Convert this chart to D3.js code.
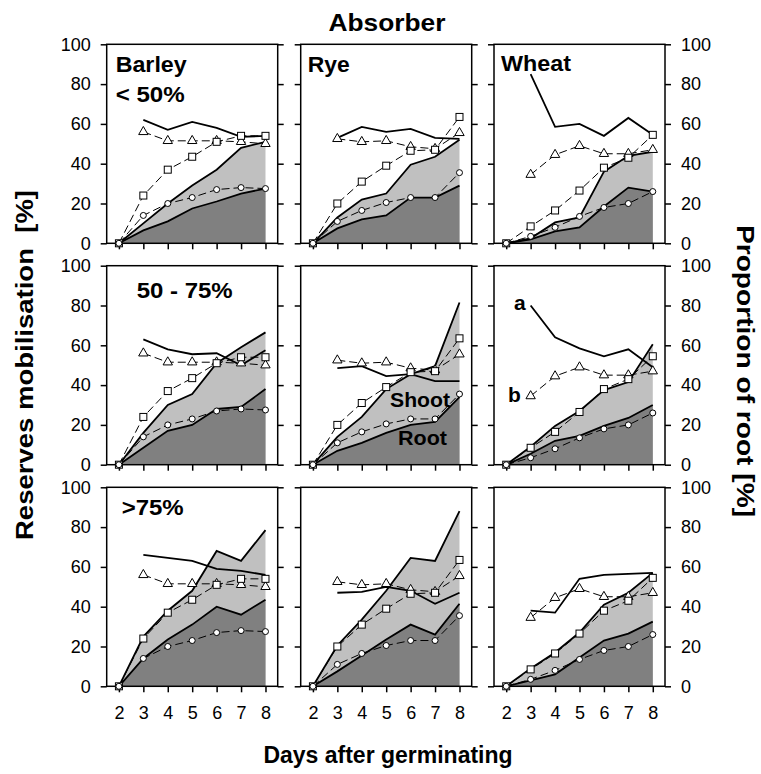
<!DOCTYPE html>
<html>
<head>
<meta charset="utf-8">
<script src="https://cdn.jsdelivr.net/npm/d3@7"></script>
<style>
body { margin: 0; background: #fff; }
text { font-family: "Liberation Sans", Arial, sans-serif; fill: #000; }
</style>
</head>
<body>
<div id="chart"></div>
<script>
var days = [2, 3, 4, 5, 6, 7, 8];
var laterDays = [3, 4, 5, 6, 7, 8];
var crops = ["Barley", "Rye", "Wheat"];
var groups = ["< 50%", "50 - 75%", ">75%"];
var yTicks = [0, 20, 40, 60, 80, 100];

// panels in reading order (row = group, column = crop), days 2..8
var totalMob = [
    [0, 10, 20, 29, 37, 48, 51],
    [0, 13, 22, 25, 39.5, 43.5, 52],
    [0, 2.5, 10.5, 13, 36, 44, 46],
    [0, 16, 30, 35.5, 51, 59, 66.5],
    [0, 14, 24, 38, 45.5, 49.5, 81.5],
    [0, 9, 19.5, 27, 37.5, 41.5, 60.5],
    [0, 25, 38, 48, 68, 63, 78.5],
    [0, 20.5, 33.5, 48, 64.5, 63, 88],
    [0, 9, 17, 27, 41, 47, 57]
];
var rootMob = [
    [0, 6.5, 11, 17.5, 21, 25, 27.5],
    [0, 7.5, 12, 14, 23, 23, 29],
    [0, 2, 6, 8, 18.5, 28, 26],
    [0, 8.5, 17, 20, 28, 29, 38],
    [0, 7, 11, 16, 20, 21.5, 34],
    [0, 5.5, 12, 14.5, 19.5, 23.5, 30],
    [0, 14, 23.5, 31, 40, 36, 43.5],
    [0, 7.5, 15.5, 23.5, 31, 26, 41.5],
    [0, 3, 6, 14.5, 23, 26.5, 32.5]
];
// proportion of root (line "a"), days 3..8
var rootProp = [
    [62, 57, 61, 58, 53.5, 54],
    [53, 58.5, 56, 57.5, 53, 52.5],
    [85, 58.5, 60, 54, 63, 54.5],
    [63, 58, 55.5, 56, 50, 57.5],
    [48.5, 49.5, 44.5, 45.5, 42, 42],
    [80, 64, 58.5, 54.5, 58, 49],
    [66, 64.5, 63, 59, 58, 56],
    [47, 47.5, 50, 48, 41.5, 47],
    [38, 37, 54, 56, 56.5, 57]
];
// reference series per crop (same in every row)
var triangles = [
    [56, 51.5, 51.5, 51.5, 51, 50],
    [52.5, 51, 51.5, 48.5, 47.5, 55.5],
    [34.5, 44.5, 49, 45, 45, 47]
];
var squares = [
    [0, 24, 37, 43.5, 51, 54, 54],
    [0, 20, 31, 39, 46.5, 47, 63.5],
    [0, 8.5, 16.5, 26.5, 38, 43, 54.5]
];
var circles = [
    [0, 14, 20, 23, 27, 28, 27.5],
    [0, 11, 16.5, 20.5, 23, 23, 35.5],
    [0, 3.5, 8, 13.5, 18, 20, 26]
];

var W = 761, H = 774;
var colX = [106.7, 300.7, 494];
var rowY = [44.3, 265.7, 487.3];
var pw = 171, ph = 199;

var svg = d3.select("#chart").append("svg")
    .attr("width", W)
    .attr("height", H);

var x = d3.scaleLinear().domain([1.5, 8.5]).range([0, pw]);
var y = d3.scaleLinear().domain([0, 100]).range([ph, 0]);

function pts(xs, vs) {
    return xs.map((d, i) => ({day: d, v: vs[i]}));
}

var area = d3.area().x(d => x(d.day)).y0(y(0)).y1(d => y(d.v));
var line = d3.line().x(d => x(d.day)).y(d => y(d.v));

for (let r = 0; r < 3; r++) {
    for (let c = 0; c < 3; c++) {
        let p = r * 3 + c;
        let g = svg.append("g").attr("transform", "translate(" + colX[c] + "," + rowY[r] + ")");

        // shaded areas
        g.append("path").attr("d", area(pts(days, totalMob[p]))).attr("fill", "#c0c0c0");
        g.append("path").attr("d", area(pts(days, rootMob[p]))).attr("fill", "#808080");

        // axes
        let left = g.append("g").call(d3.axisLeft(y).tickValues(yTicks).tickSize(6).tickPadding(10)
            .tickFormat(c == 0 ? d3.format("d") : ""));
        let right = g.append("g").attr("transform", "translate(" + pw + ",0)")
            .call(d3.axisRight(y).tickValues(yTicks).tickSize(6).tickPadding(10)
            .tickFormat(c == 2 ? d3.format("d") : ""));
        let bottom = g.append("g").attr("transform", "translate(0," + ph + ")")
            .call(d3.axisBottom(x).tickValues(days).tickSize(6).tickPadding(14)
            .tickFormat(r == 2 ? d3.format("d") : ""));
        [left, right, bottom].forEach(a => {
            a.select(".domain").remove();
            a.selectAll("line").attr("stroke", "#000").attr("stroke-width", 1.5);
            a.selectAll("text").style("font-size", "18px").attr("fill", "#000");
        });
        g.append("rect").attr("width", pw).attr("height", ph)
            .attr("fill", "none").attr("stroke", "#000").attr("stroke-width", 1.5);

        // solid lines
        g.append("path").attr("d", line(pts(days, totalMob[p])))
            .attr("fill", "none").attr("stroke", "#000").attr("stroke-width", 1.8);
        g.append("path").attr("d", line(pts(days, rootMob[p])))
            .attr("fill", "none").attr("stroke", "#000").attr("stroke-width", 1.8);
        g.append("path").attr("d", line(pts(laterDays, rootProp[p])))
            .attr("fill", "none").attr("stroke", "#000").attr("stroke-width", 1.8);

        // dashed series with markers
        let tri = pts(laterDays, triangles[c]);
        let sq = pts(days, squares[c]);
        let ci = pts(days, circles[c]);
        [tri, sq, ci].forEach(s => {
            g.append("path").attr("d", line(s))
                .attr("fill", "none").attr("stroke", "#000").attr("stroke-width", 1)
                .attr("stroke-dasharray", "8,4");
        });
        g.selectAll("path.tri").data(tri).enter().append("path")
            .attr("class", "tri")
            .attr("d", d3.symbol().type(d3.symbolTriangle).size(38))
            .attr("transform", d => "translate(" + x(d.day) + "," + y(d.v) + ")")
            .attr("fill", "#fff").attr("stroke", "#000").attr("stroke-width", 1);
        g.selectAll("rect.sq").data(sq).enter().append("rect")
            .attr("class", "sq")
            .attr("x", d => x(d.day) - 3.5).attr("y", d => y(d.v) - 3.5)
            .attr("width", 7).attr("height", 7)
            .attr("fill", "#fff").attr("stroke", "#000").attr("stroke-width", 1);
        g.selectAll("circle.ci").data(ci).enter().append("circle")
            .attr("class", "ci")
            .attr("cx", d => x(d.day)).attr("cy", d => y(d.v)).attr("r", 3)
            .attr("fill", "#fff").attr("stroke", "#000").attr("stroke-width", 1);
    }
}

// panel labels (width stretched to match the original lettering)
function label(px, py, txt, size, len) {
    let t = svg.append("text").attr("x", px).attr("y", py).text(txt)
        .style("font-size", size + "px").style("font-weight", "bold");
    if (len) t.attr("textLength", len).attr("lengthAdjust", "spacingAndGlyphs");
}
label(colX[0] + 9, rowY[0] + 27.5, crops[0], 22, 71);
label(colX[0] + 9, rowY[0] + 57.5, groups[0], 22, 69);
label(colX[1] + 7, rowY[0] + 27.5, crops[1], 22, 42);
label(colX[2] + 7, rowY[0] + 26.5, crops[2], 22, 70);
label(colX[0] + 30, rowY[1] + 32, groups[1], 22, 96);
label(colX[0] + 15, rowY[2] + 28, groups[2], 22, 62);
label(390, 407, "Shoot", 21, 60);
label(398, 445, "Root", 21, 49);
label(514, 310, "a", 21);
label(508, 402, "b", 21);

// titles
svg.append("text").attr("x", 387).attr("y", 31).attr("text-anchor", "middle")
    .style("font-size", "24px").style("font-weight", "bold")
    .attr("textLength", 117).attr("lengthAdjust", "spacingAndGlyphs").text("Absorber");
svg.append("text").attr("x", 388).attr("y", 763).attr("text-anchor", "middle")
    .style("font-size", "23px").style("font-weight", "bold").text("Days after germinating");
svg.append("text").attr("transform", "translate(33,365) rotate(-90)").attr("text-anchor", "middle")
    .style("font-size", "24px").style("font-weight", "bold").style("white-space", "pre")
    .attr("textLength", 350).attr("lengthAdjust", "spacingAndGlyphs")
    .text("Reserves mobilisation  [%]");
svg.append("text").attr("transform", "translate(737,371) rotate(90)").attr("text-anchor", "middle")
    .style("font-size", "24px").style("font-weight", "bold")
    .attr("textLength", 292).attr("lengthAdjust", "spacingAndGlyphs")
    .text("Proportion of root [%]");
</script>
</body>
</html>
